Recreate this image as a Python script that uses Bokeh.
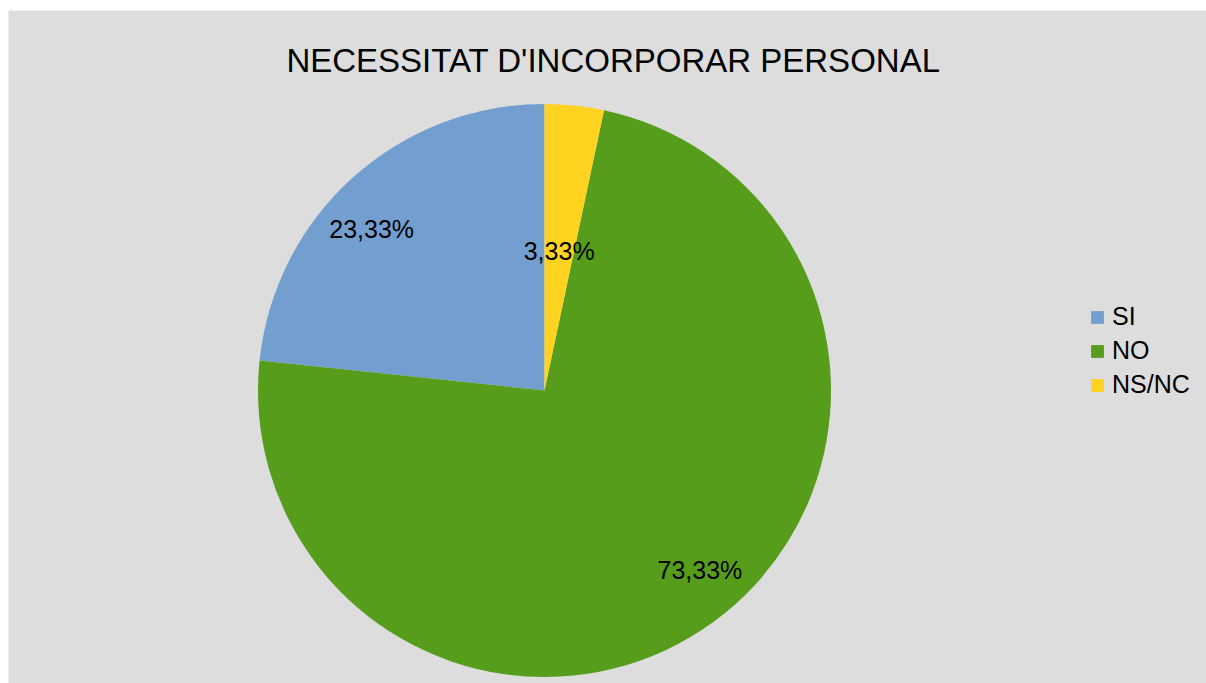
import math
from bokeh.plotting import figure
from bokeh.models import Range1d, Legend, LegendItem, Label, ColumnDataSource
from bokeh.embed import file_html
from bokeh.resources import INLINE
from bokeh.core.properties import value

# ---- data ----
categories = ["SI", "NO", "NS/NC"]
percent = [23.33, 73.33, 3.33]
colors = ["#729fcf", "#579d1c", "#ffd320"]
title_text = "NECESSITAT D'INCORPORAR PERSONAL"

# ---- layout ----
W, H = 1206, 683
LEFT, TOP = 8, 10
FW, FH = W - LEFT, H - TOP
CX, CY, R = 536, 293, 286.5
label_r_frac = [0.825, 0.83, 0.49]
label_dtheta = [5.0, 4.8, 0.0]
FONT = "Liberation Sans"

total = sum(percent)
starts, ends, lx, ly, labels = [], [], [], [], []
cum = 0.0
for i, v in enumerate(percent):
    a0 = math.radians(90 + cum / total * 360)
    a1 = math.radians(90 + (cum + v) / total * 360)
    starts.append(a0)
    ends.append(a1)
    mid = (a0 + a1) / 2 + math.radians(label_dtheta[i])
    lx.append(CX + R * label_r_frac[i] * math.cos(mid))
    ly.append(CY + R * label_r_frac[i] * math.sin(mid))
    labels.append(f"{v:.2f}".replace(".", ",") + "%")
    cum += v

src = ColumnDataSource(dict(
    cat=categories, start=starts, end=ends, color=colors,
    x=[CX] * len(categories), y=[CY] * len(categories),
    lx=lx, ly=ly, label=labels,
))

p = figure(width=W, height=H, output_backend="svg", toolbar_location=None,
           x_range=Range1d(0, FW), y_range=Range1d(0, FH),
           x_axis_type=None, y_axis_type=None,
           min_border_left=LEFT, min_border_top=TOP, min_border_right=0, min_border_bottom=0,
           background_fill_color="#dddddd", border_fill_color="white",
           outline_line_color=None)
p.grid.visible = False

wr = p.wedge(x="x", y="y", radius=R, start_angle="start", end_angle="end",
             direction="anticlock", fill_color="color", line_color=None, source=src)

p.text(x="lx", y="ly", text="label", text_align="center", text_baseline="middle",
       text_font=value(FONT), text_font_size="25px", text_color="black", source=src)

p.add_layout(Label(x=605, y=623, x_units="data", y_units="data", text=title_text,
                   text_align="center", text_baseline="middle",
                   text_font=FONT, text_font_size="33px", text_color="black"))

legend = Legend(items=[LegendItem(label=c, renderers=[wr], index=i) for i, c in enumerate(categories)],
                location=(1081, 284), glyph_width=16, glyph_height=16,
                label_text_font=FONT, label_text_font_size="25px", label_text_color="black",
                label_standoff=7, spacing=5, padding=0, margin=0,
                border_line_color=None, background_fill_alpha=0)
p.add_layout(legend)

open("out.html", "w").write(file_html(p, INLINE))
